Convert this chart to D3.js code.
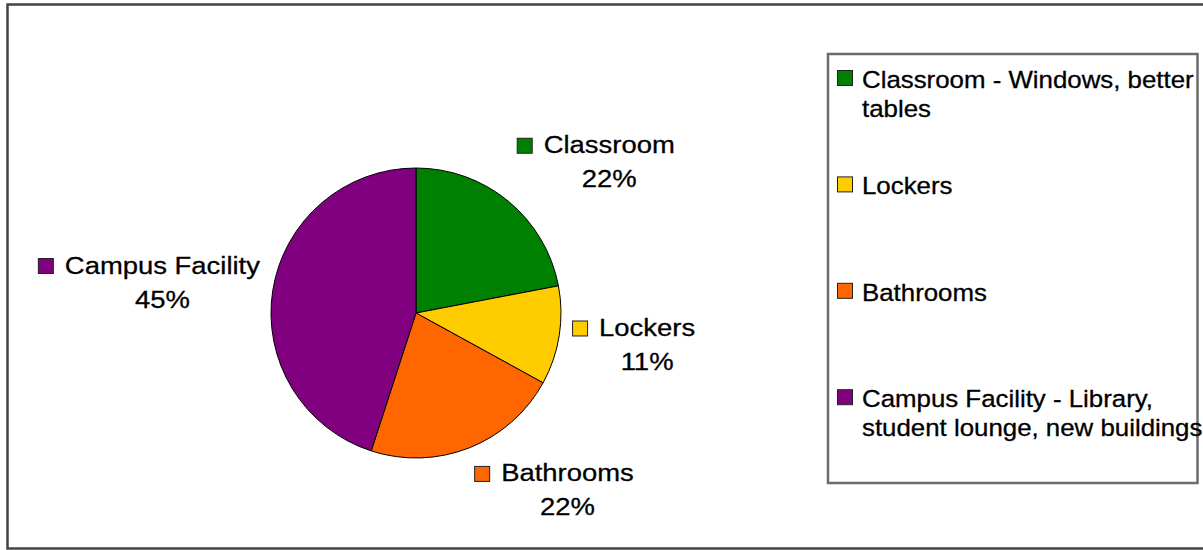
<!DOCTYPE html>
<html>
<head>
<meta charset="utf-8">
<script src="https://cdn.jsdelivr.net/npm/d3@7"></script>
<style>
  html, body { margin: 0; padding: 0; background: #fff; }
  svg { display: block; }
  text { font-family: "Liberation Sans", Arial, Helvetica, sans-serif; fill: #000; stroke: #000; stroke-width: 0.3; }
</style>
</head>
<body>
<svg id="chart" width="1203" height="550"></svg>
<script>
// Survey answers: which facility most needs improvement (percent of responses)
const categories = ["Classroom", "Lockers", "Bathrooms", "Campus Facility"];
const shares = [22, 11, 22, 45];
const legendLines = [
  ["Classroom - Windows, better", "tables"],
  ["Lockers"],
  ["Bathrooms"],
  ["Campus Facility - Library,", "student lounge, new buildings"]
];
const sliceColors = ["#008000", "#ffcc00", "#ff6600", "#800080"];

const svg = d3.select("#chart");

// outer frame (runs off the right edge)
svg.append("rect")
  .attr("x", 7.5).attr("y", 4.5)
  .attr("width", 1210).attr("height", 544)
  .attr("fill", "none").attr("stroke", "#444").attr("stroke-width", 2.5);

const cx = 416, cy = 313, radius = 145;
const data = categories.map((c, i) => ({
  name: c, value: shares[i], color: sliceColors[i], legend: legendLines[i]
}));

const pie = d3.pie().sort(null).value(d => d.value);
const arcs = pie(data);
const arc = d3.arc().innerRadius(0).outerRadius(radius);

const g = svg.append("g").attr("transform", `translate(${cx},${cy})`);
g.selectAll("path.slice")
  .data(arcs)
  .join("path")
  .attr("class", "slice")
  .attr("d", arc)
  .attr("fill", d => d.data.color)
  .attr("stroke", "#000")
  .attr("stroke-width", 1);

// slice labels: swatch + name, percentage underneath
const labelFont = 24.5, labelScale = 1.12;
const labelRadius = radius + 13;
const padY = 4;
const clamp = v => Math.max(0, Math.min(1, v));

arcs.forEach(d => {
  const mid = (d.startAngle + d.endAngle) / 2;
  const s = Math.sin(mid), c = Math.cos(mid);
  const px = labelRadius * s, py = -labelRadius * c;

  const block = g.append("g");
  const name = block.append("text")
    .attr("font-size", labelFont)
    .attr("transform", `translate(27,${padY + 17.5}) scale(${labelScale},1)`)
    .text(d.data.name);
  const nw = name.node().getComputedTextLength() * labelScale;

  block.append("rect")
    .attr("x", 0.5).attr("y", padY + 2.5)
    .attr("width", 15).attr("height", 15)
    .attr("fill", d.data.color)
    .attr("stroke", "#222").attr("stroke-width", 1);

  block.append("text")
    .attr("font-size", labelFont)
    .attr("text-anchor", "middle")
    .attr("transform", `translate(${27 + nw / 2},${padY + 51.5}) scale(${labelScale},1)`)
    .text(d.data.value + "%");

  const bw = 27 + nw, bh = 51.5 + 2 * padY;
  const ax = clamp(0.5 - 1.5 * s), ay = clamp(0.5 + 0.7 * c);
  block.attr("transform", `translate(${px - ax * bw},${py - ay * bh})`);
});

// legend
const legendFont = 23.5, legendScale = 1.1;
const legend = svg.append("g");
legend.append("rect")
  .attr("x", 828).attr("y", 54)
  .attr("width", 369.5).attr("height", 429)
  .attr("fill", "#fff").attr("stroke", "#6b6b6b").attr("stroke-width", 2.5);

const entryY = d3.scalePoint().domain(categories).range([88, 407.2]);

data.forEach(d => {
  const y0 = entryY(d.name);
  legend.append("rect")
    .attr("x", 837.5).attr("y", y0 - 17.5)
    .attr("width", 15).attr("height", 15)
    .attr("fill", d.color)
    .attr("stroke", "#222").attr("stroke-width", 1);
  d.legend.forEach((line, k) => {
    legend.append("text")
      .attr("font-size", legendFont)
      .attr("transform", `translate(862,${y0 + k * 29}) scale(${legendScale},1)`)
      .text(line);
  });
});
</script>
</body>
</html>
